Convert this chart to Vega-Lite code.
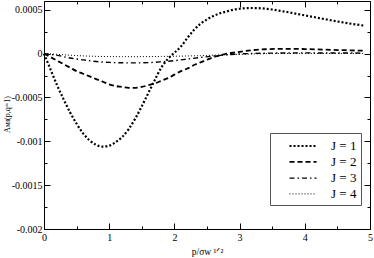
{
  "$schema": "https://vega.github.io/schema/vega-lite/v6.json",
  "width": 326,
  "height": 228,
  "autosize": "none",
  "padding": {"left": 44, "top": 1, "right": 4, "bottom": 29},
  "config": {"font": "Liberation Serif", "view": {"stroke": null}},
  "datasets": {
    "curves": [
      {"p":0,"v":0,"J":1},{"p":0.1,"v":-0.00018,"J":1},{"p":0.2,"v":-0.00036,"J":1},{"p":0.3,"v":-0.00052,"J":1},{"p":0.4,"v":-0.00067,"J":1},{"p":0.5,"v":-0.0008,"J":1},{"p":0.6,"v":-0.00091,"J":1},{"p":0.7,"v":-0.00099,"J":1},{"p":0.8,"v":-0.00104,"J":1},{"p":0.9,"v":-0.00106,"J":1},{"p":1.0,"v":-0.00105,"J":1},{"p":1.1,"v":-0.00101,"J":1},{"p":1.2,"v":-0.00095,"J":1},{"p":1.3,"v":-0.00086,"J":1},{"p":1.4,"v":-0.00074,"J":1},{"p":1.5,"v":-0.0006,"J":1},{"p":1.6,"v":-0.00045,"J":1},{"p":1.7,"v":-0.0003,"J":1},{"p":1.8,"v":-0.00016,"J":1},{"p":1.9,"v":-0.00006,"J":1},{"p":2.0,"v":0.00001,"J":1},{"p":2.1,"v":0.00008,"J":1},{"p":2.2,"v":0.00018,"J":1},{"p":2.3,"v":0.00027,"J":1},{"p":2.4,"v":0.00034,"J":1},{"p":2.5,"v":0.00039,"J":1},{"p":2.6,"v":0.00043,"J":1},{"p":2.7,"v":0.00046,"J":1},{"p":2.8,"v":0.00048,"J":1},{"p":2.9,"v":0.0005,"J":1},{"p":3.0,"v":0.000512,"J":1},{"p":3.1,"v":0.000518,"J":1},{"p":3.2,"v":0.00052,"J":1},{"p":3.3,"v":0.000518,"J":1},{"p":3.4,"v":0.000512,"J":1},{"p":3.5,"v":0.000503,"J":1},{"p":3.6,"v":0.00049,"J":1},{"p":3.7,"v":0.000478,"J":1},{"p":3.8,"v":0.000465,"J":1},{"p":3.9,"v":0.00045,"J":1},{"p":4.0,"v":0.000436,"J":1},{"p":4.1,"v":0.000422,"J":1},{"p":4.2,"v":0.000408,"J":1},{"p":4.3,"v":0.000394,"J":1},{"p":4.4,"v":0.00038,"J":1},{"p":4.5,"v":0.000367,"J":1},{"p":4.6,"v":0.000354,"J":1},{"p":4.7,"v":0.000342,"J":1},{"p":4.8,"v":0.000331,"J":1},{"p":4.9,"v":0.00032,"J":1},
      {"p":0,"v":0,"J":2},{"p":0.1,"v":-0.00004,"J":2},{"p":0.2,"v":-0.00008,"J":2},{"p":0.3,"v":-0.00012,"J":2},{"p":0.4,"v":-0.00016,"J":2},{"p":0.5,"v":-0.0002,"J":2},{"p":0.6,"v":-0.00023,"J":2},{"p":0.7,"v":-0.00026,"J":2},{"p":0.8,"v":-0.00029,"J":2},{"p":0.9,"v":-0.00032,"J":2},{"p":1.0,"v":-0.00035,"J":2},{"p":1.1,"v":-0.00037,"J":2},{"p":1.2,"v":-0.00038,"J":2},{"p":1.3,"v":-0.00039,"J":2},{"p":1.4,"v":-0.00039,"J":2},{"p":1.5,"v":-0.00038,"J":2},{"p":1.6,"v":-0.00036,"J":2},{"p":1.7,"v":-0.00034,"J":2},{"p":1.8,"v":-0.00031,"J":2},{"p":1.9,"v":-0.00028,"J":2},{"p":2.0,"v":-0.00024,"J":2},{"p":2.1,"v":-0.0002,"J":2},{"p":2.2,"v":-0.00017,"J":2},{"p":2.3,"v":-0.00013,"J":2},{"p":2.4,"v":-0.0001,"J":2},{"p":2.5,"v":-0.00007,"J":2},{"p":2.6,"v":-0.00004,"J":2},{"p":2.7,"v":-0.00002,"J":2},{"p":2.8,"v":0.0,"J":2},{"p":2.9,"v":0.00001,"J":2},{"p":3.0,"v":0.00002,"J":2},{"p":3.2,"v":0.00004,"J":2},{"p":3.4,"v":0.00005,"J":2},{"p":3.6,"v":0.000054,"J":2},{"p":3.8,"v":0.000055,"J":2},{"p":4.0,"v":0.000052,"J":2},{"p":4.2,"v":0.000048,"J":2},{"p":4.4,"v":0.000043,"J":2},{"p":4.6,"v":0.000039,"J":2},{"p":4.8,"v":0.000035,"J":2},{"p":4.9,"v":0.000033,"J":2},
      {"p":0,"v":0,"J":3},{"p":0.2,"v":-0.00002,"J":3},{"p":0.4,"v":-0.00005,"J":3},{"p":0.6,"v":-0.000072,"J":3},{"p":0.8,"v":-0.00009,"J":3},{"p":1.0,"v":-0.0001,"J":3},{"p":1.2,"v":-0.000105,"J":3},{"p":1.4,"v":-0.000106,"J":3},{"p":1.6,"v":-0.000103,"J":3},{"p":1.8,"v":-0.000093,"J":3},{"p":2.0,"v":-0.00008,"J":3},{"p":2.2,"v":-0.000062,"J":3},{"p":2.4,"v":-0.000044,"J":3},{"p":2.6,"v":-0.000028,"J":3},{"p":2.8,"v":-0.000014,"J":3},{"p":3.0,"v":-0.000004,"J":3},{"p":3.2,"v":0.000002,"J":3},{"p":3.5,"v":0.000006,"J":3},{"p":4.0,"v":0.000008,"J":3},{"p":4.5,"v":0.000007,"J":3},{"p":4.9,"v":0.000006,"J":3},
      {"p":0,"v":0,"J":4},{"p":0.2,"v":-0.000008,"J":4},{"p":0.4,"v":-0.000018,"J":4},{"p":0.6,"v":-0.000026,"J":4},{"p":0.8,"v":-0.000031,"J":4},{"p":1.0,"v":-0.000034,"J":4},{"p":1.2,"v":-0.000035,"J":4},{"p":1.4,"v":-0.000035,"J":4},{"p":1.6,"v":-0.000034,"J":4},{"p":1.8,"v":-0.000032,"J":4},{"p":2.0,"v":-0.00003,"J":4},{"p":2.2,"v":-0.000027,"J":4},{"p":2.4,"v":-0.000023,"J":4},{"p":2.6,"v":-0.000018,"J":4},{"p":2.8,"v":-0.000013,"J":4},{"p":3.0,"v":-0.000008,"J":4},{"p":3.2,"v":-0.000004,"J":4},{"p":3.5,"v":0.0,"J":4},{"p":4.0,"v":0.000002,"J":4},{"p":4.5,"v":0.000002,"J":4},{"p":4.9,"v":0.000002,"J":4}
    ]
  },
  "data": {"name": "curves"},
  "resolve": {"axis": {"x": "independent", "y": "independent"}},
  "layer": [
    {
      "mark": {"type": "line", "interpolate": "monotone", "color": "black"},
      "encoding": {
        "x": {
          "field": "p", "type": "quantitative",
          "scale": {"domain": [0, 5], "nice": false, "zero": false},
          "axis": {
            "orient": "bottom",
            "values": [0, 0.5, 1, 1.5, 2, 2.5, 3, 3.5, 4, 4.5, 5],
            "labelExpr": "datum.value % 1 === 0 ? '' + datum.value : ''",
            "tickSize": {"condition": {"test": "datum.value % 1 !== 0", "value": -3}, "value": -6},
            "domainColor": "black", "tickColor": "black", "domainWidth": 1,
            "labelColor": "black", "labelFontSize": 10, "labelPadding": 9,
            "labelFlush": false, "grid": false,
            "title": "p/σᴡ ¹ᐟ²", "titleFontSize": 9.5, "titleFontWeight": "normal",
            "titleColor": "black", "titleX": 163, "titleY": 25, "titleBaseline": "alphabetic", "titleAlign": "center"
          }
        },
        "y": {
          "field": "v", "type": "quantitative",
          "scale": {"domain": [-0.002, 0.0006], "nice": false, "zero": false},
          "axis": {
            "orient": "left",
            "values": [-0.002, -0.00175, -0.0015, -0.00125, -0.001, -0.00075, -0.0005, -0.00025, 0, 0.00025, 0.0005],
            "labelExpr": "abs(datum.value * 2000 - round(datum.value * 2000)) < 0.01 ? '' + datum.value : ''",
            "tickSize": {"condition": {"test": "abs(datum.value * 2000 - round(datum.value * 2000)) > 0.01", "value": -3}, "value": -6},
            "domainColor": "black", "tickColor": "black", "domainWidth": 1,
            "labelColor": "black", "labelFontSize": 10, "labelPadding": 8,
            "labelFlush": false, "grid": false,
            "title": "Aᴍɪ(p,q=1)", "titleFontSize": 8, "titleFontWeight": "normal",
            "titleColor": "black", "titleX": -37, "titleY": 113, "titleBaseline": "middle", "titleAngle": -90
          }
        },
        "detail": {"field": "J", "type": "nominal"},
        "strokeDash": {
          "field": "J", "type": "nominal",
          "scale": {"domain": [1, 2, 3, 4], "range": [[2, 2], [5, 3], [5, 3, 1.5, 3], [1, 2]]},
          "legend": {
            "orient": "none", "legendX": 226, "legendY": 132,
            "title": null, "symbolType": "M0.87,0H4.47", "symbolSize": 225,
            "symbolStrokeColor": "black",
            "labelExpr": "'J = ' + datum.label + '     '", "labelFont": "Liberation Serif",
            "labelFontSize": 13, "labelColor": "black", "labelOffset": 39,
            "strokeColor": "#555", "fillColor": "white", "padding": 4,
            "rowPadding": 0.3
          }
        },
        "strokeWidth": {
          "field": "J", "type": "nominal",
          "scale": {"domain": [1, 2, 3, 4], "range": [2.2, 1, 1, 1]},
          "legend": null
        }
      }
    },
    {
      "mark": {"type": "line", "opacity": 0},
      "encoding": {
        "x": {
          "field": "p", "type": "quantitative",
          "axis": {
            "orient": "top",
            "values": [0, 0.5, 1, 1.5, 2, 2.5, 3, 3.5, 4, 4.5, 5],
            "labels": false, "title": null, "grid": false,
            "tickSize": {"condition": {"test": "datum.value % 1 !== 0", "value": -3}, "value": -6},
            "domainColor": "black", "tickColor": "black"
          }
        },
        "y": {
          "field": "v", "type": "quantitative",
          "axis": {
            "orient": "right",
            "values": [-0.002, -0.00175, -0.0015, -0.00125, -0.001, -0.00075, -0.0005, -0.00025, 0, 0.00025, 0.0005],
            "labels": false, "title": null, "grid": false,
            "tickSize": {"condition": {"test": "abs(datum.value * 2000 - round(datum.value * 2000)) > 0.01", "value": -3}, "value": -6},
            "domainColor": "black", "tickColor": "black"
          }
        },
        "detail": {"field": "J", "type": "nominal"}
      }
    }
  ]
}
